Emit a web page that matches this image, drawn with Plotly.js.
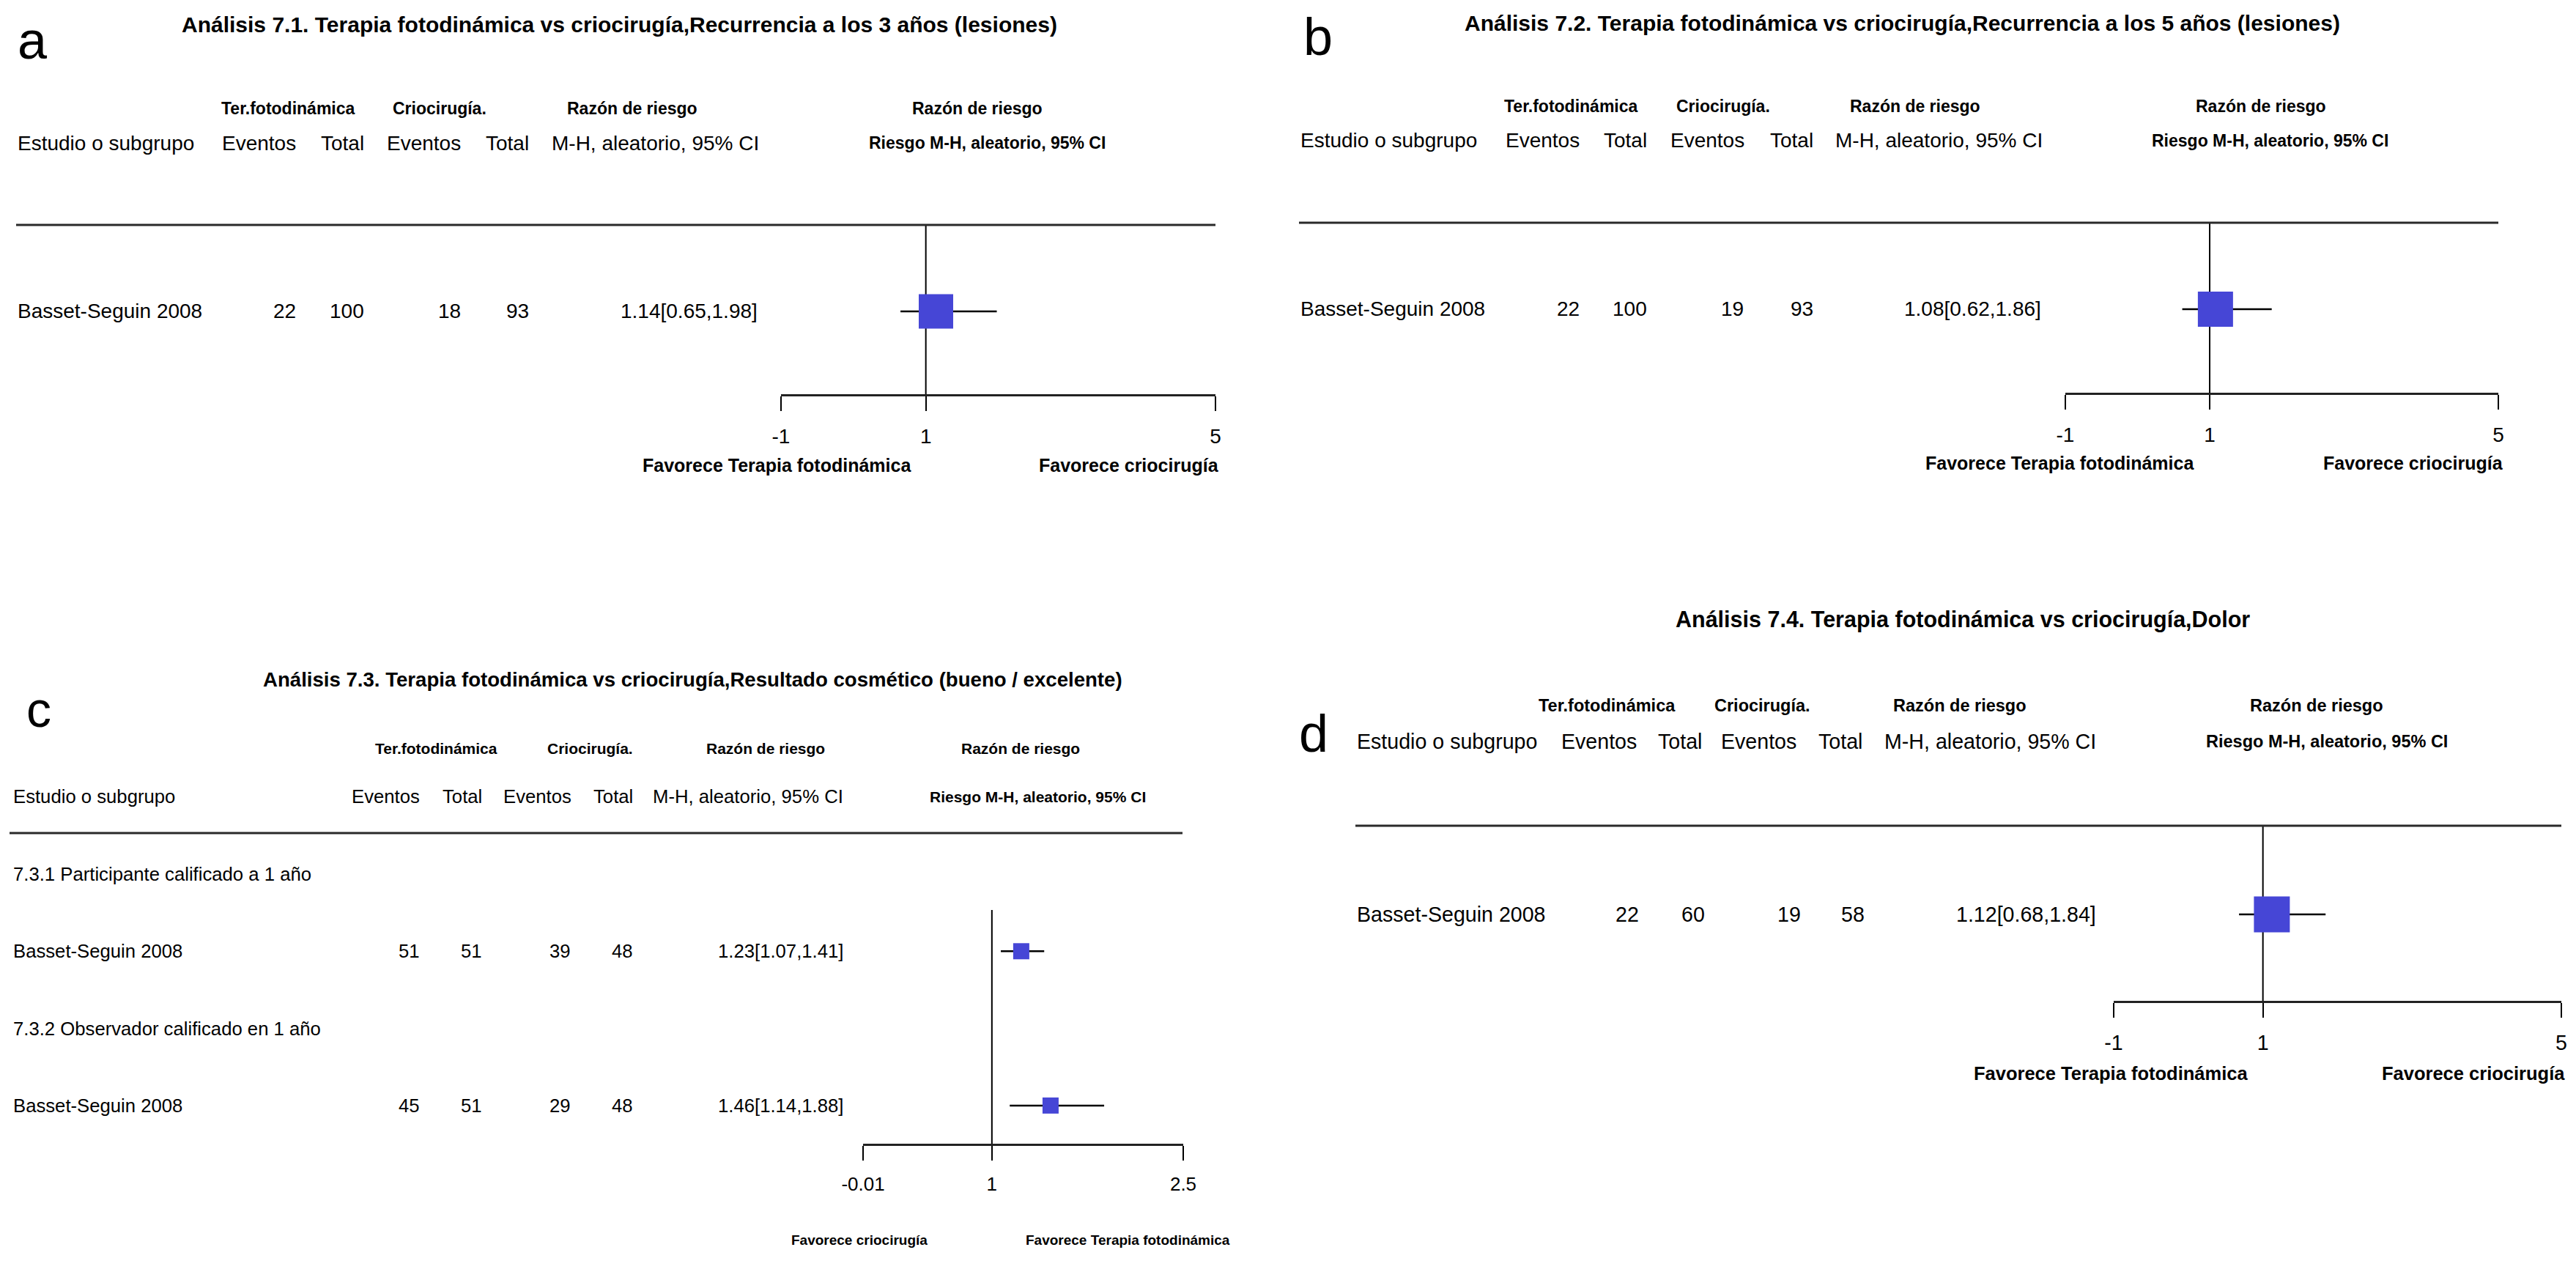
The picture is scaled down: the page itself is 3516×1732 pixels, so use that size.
<!DOCTYPE html>
<html>
<head>
<meta charset="utf-8">
<script src="https://cdn.plot.ly/plotly-3.0.1.min.js"></script>
<style>html,body{margin:0;padding:0;background:#fff;}#chart{width:3516px;height:1732px;}</style>
</head>
<body>
<div id="chart"></div>
<script>
// ---------- DATA ----------
const ticksAB = [-1, 1, 5];
const ticksC = [-0.01, 1, 2.5];

// Panel a: 7.1 Recurrencia a los 3 años
const studiesA = ["Basset-Seguin 2008"];
const eventsPdtA = [22];
const totalPdtA = [100];
const eventsCryoA = [18];
const totalCryoA = [93];
const rrA = [1.14];
const loA = [0.65];
const hiA = [1.98];

// Panel b: 7.2 Recurrencia a los 5 años
const studiesB = ["Basset-Seguin 2008"];
const eventsPdtB = [22];
const totalPdtB = [100];
const eventsCryoB = [19];
const totalCryoB = [93];
const rrB = [1.08];
const loB = [0.62];
const hiB = [1.86];

// Panel c: 7.3 Resultado cosmético
const subgroupsC = ["7.3.1 Participante calificado a 1 año", "7.3.2 Observador calificado en 1 año"];
const studiesC = ["Basset-Seguin 2008", "Basset-Seguin 2008"];
const eventsPdtC = [51, 45];
const totalPdtC = [51, 51];
const eventsCryoC = [39, 29];
const totalCryoC = [48, 48];
const rrC = [1.23, 1.46];
const loC = [1.07, 1.14];
const hiC = [1.41, 1.88];

// Panel d: 7.4 Dolor
const studiesD = ["Basset-Seguin 2008"];
const eventsPdtD = [22];
const totalPdtD = [60];
const eventsCryoD = [19];
const totalCryoD = [58];
const rrD = [1.12];
const loD = [0.68];
const hiD = [1.84];

// ---------- LAYOUT HELPERS ----------
const W = 3516, H = 1732;
const FONT = "Liberation Sans, Arial, sans-serif";
const BLUE = "#4646d6";
const px = v => v / W;
const py = v => 1 - v / H;
const ann = [];
const shapes = [];

function txt(x, y, text, o) {
  o = o || {};
  ann.push({
    xref: "paper", yref: o.yref || "paper",
    x: px(x), y: o.yref ? y : py(y),
    text: o.bold ? "<b>" + text + "</b>" : text,
    showarrow: false,
    xanchor: o.anchor || "left", yanchor: "middle",
    font: { family: FONT, size: o.size || 28, color: "#000" }
  });
}
function hline(x0, x1, y, w) {
  shapes.push({ type: "line", xref: "paper", yref: "paper", x0: px(x0), x1: px(x1), y0: py(y), y1: py(y),
    line: { color: "#2a2a2a", width: w || 3 } });
}
function vline(ax, yax, topFrac) {
  shapes.push({ type: "line", xref: ax, yref: yax + " domain", x0: 1, x1: 1, y0: 0, y1: topFrac,
    line: { color: "#000", width: 2 }, layer: "below" });
}
function fmt(rr, lo, hi) { return rr.toFixed(2) + "[" + lo.toFixed(2) + "," + hi.toFixed(2) + "]"; }

function header(p) {
  txt(p.letterX, p.letterY, p.letter, { size: p.letterSize });
  txt(p.titleX, p.titleY, p.title, { anchor: "center", bold: true, size: p.titleSize });
  const b = p.boldSize, n = p.normSize;
  txt(p.h1[0], p.r1, "Ter.fotodinámica", { anchor: "center", bold: true, size: b });
  txt(p.h1[1], p.r1, "Criocirugía.", { anchor: "center", bold: true, size: b });
  txt(p.h1[2], p.r1, "Razón de riesgo", { anchor: "center", bold: true, size: b });
  txt(p.h1[3], p.r1, "Razón de riesgo", { anchor: "center", bold: true, size: b });
  txt(p.studyX, p.r2, "Estudio o subgrupo", { size: n });
  txt(p.cols[0], p.r2, "Eventos", { anchor: "right", size: n });
  txt(p.cols[1], p.r2, "Total", { anchor: "right", size: n });
  txt(p.cols[2], p.r2, "Eventos", { anchor: "right", size: n });
  txt(p.cols[3], p.r2, "Total", { anchor: "right", size: n });
  txt(p.cols[4], p.r2, "M-H, aleatorio, 95% CI", { anchor: "right", size: n });
  txt(p.riesgoX, p.r2, "Riesgo M-H, aleatorio, 95% CI", { anchor: "center", bold: true, size: b });
  hline(p.lineX0, p.lineX1, p.lineY);
  txt(p.fav[0], p.favY, p.favText[0], { anchor: "center", bold: true, size: p.favSize });
  txt(p.fav[1], p.favY, p.favText[1], { anchor: "center", bold: true, size: p.favSize });
}
function rows(p, yax, idx, studies, e1, t1, e2, t2, rr, lo, hi) {
  const n = p.normSize;
  for (let i = 0; i < studies.length; i++) {
    const o = { yref: yax, size: n };
    txt(p.studyX, idx[i], studies[i], o);
    txt(p.vals[0], idx[i], String(e1[i]), Object.assign({ anchor: "right" }, o));
    txt(p.vals[1], idx[i], String(t1[i]), Object.assign({ anchor: "right" }, o));
    txt(p.vals[2], idx[i], String(e2[i]), Object.assign({ anchor: "right" }, o));
    txt(p.vals[3], idx[i], String(t2[i]), Object.assign({ anchor: "right" }, o));
    txt(p.vals[4], idx[i], fmt(rr[i], lo[i], hi[i]), Object.assign({ anchor: "right" }, o));
  }
}
function forestTrace(ax, yax, idx, rr, lo, hi, size) {
  return {
    type: "scatter", mode: "markers", xaxis: ax, yaxis: yax,
    x: rr, y: idx, cliponaxis: false, hoverinfo: "skip",
    marker: { symbol: "square", size: size, color: BLUE, line: { width: 0 } },
    error_x: { type: "data", symmetric: false,
      array: hi.map((h, i) => h - rr[i]), arrayminus: lo.map((l, i) => rr[i] - l),
      color: "#000", thickness: 2.5, width: 0 }
  };
}
function xAxis(d0, d1, yanchor, tv, r, fs) {
  return {
    domain: [px(d0), px(d1)], anchor: yanchor, range: r,
    showgrid: false, zeroline: false, showline: true, linecolor: "#222", linewidth: 3,
    ticks: "outside", ticklen: 20, tickwidth: 2, tickcolor: "#000",
    tickmode: "array", tickvals: tv, ticktext: tv.map(String),
    tickfont: { family: FONT, size: fs, color: "#000" }, ticklabelstandoff: 10, fixedrange: true
  };
}
function yAxis(xanchor, top, bottom, row0, step) {
  return {
    domain: [py(bottom), py(top)], anchor: xanchor, visible: false,
    range: [(bottom - row0) / step, (top - row0) / step],
    showgrid: false, zeroline: false, fixedrange: true
  };
}

// ---------- PANELS ----------
const favAB = ["Favorece Terapia fotodinámica", "Favorece criocirugía"];
const favC = ["Favorece criocirugía", "Favorece Terapia fotodinámica"];

const pA = { letter: "a", letterX: 22, letterY: 55, letterSize: 72,
  title: "Análisis 7.1. Terapia fotodinámica vs criocirugía,Recurrencia a los 3 años (lesiones)",
  titleX: 845, titleY: 33, titleSize: 30, boldSize: 23, normSize: 28,
  r1: 148, r2: 195, h1: [393, 600, 863, 1334], studyX: 22,
  cols: [406, 499, 631, 724, 1038], vals: [406, 499, 631, 724, 1036], riesgoX: 1347,
  lineX0: 22, lineX1: 1659, lineY: 307, fav: [1060, 1541], favY: 635, favText: favAB, favSize: 25 };
const pB = { letter: "b", letterX: 1777, letterY: 50, letterSize: 72,
  title: "Análisis 7.2. Terapia fotodinámica vs criocirugía,Recurrencia a los 5 años (lesiones)",
  titleX: 2596, titleY: 32, titleSize: 30, boldSize: 23, normSize: 28,
  r1: 145, r2: 192, h1: [2144, 2352, 2614, 3086], studyX: 1773,
  cols: [2158, 2250, 2383, 2477, 2790], vals: [2158, 2250, 2382, 2477, 2788], riesgoX: 3098,
  lineX0: 1773, lineX1: 3410, lineY: 304, fav: [2811, 3294], favY: 632, favText: favAB, favSize: 25 };
const pC = { letter: "c", letterX: 34, letterY: 968, letterSize: 68,
  title: "Análisis 7.3. Terapia fotodinámica vs criocirugía,Resultado cosmético (bueno / excelente)",
  titleX: 945, titleY: 927, titleSize: 27.6, boldSize: 21, normSize: 25.7,
  r1: 1022, r2: 1087, h1: [595, 805, 1045, 1393], studyX: 16,
  cols: [575, 660, 782, 866, 1153], vals: [575, 660, 781, 866, 1153], riesgoX: 1416,
  lineX0: 13, lineX1: 1614, lineY: 1137, fav: [1173, 1539], favY: 1692, favText: favC, favSize: 19 };
const pD = { letter: "d", letterX: 1771, letterY: 1001, letterSize: 72,
  title: "Análisis 7.4. Terapia fotodinámica vs criocirugía,Dolor",
  titleX: 2679, titleY: 845, titleSize: 30.5, boldSize: 23.5, normSize: 28.6,
  r1: 963, r2: 1012, h1: [2193, 2405, 2675, 3162], studyX: 1850,
  cols: [2236, 2325, 2454, 2544, 2863], vals: [2239, 2329, 2460, 2547, 2863], riesgoX: 3176,
  lineX0: 1850, lineX1: 3496, lineY: 1127, fav: [2881, 3376], favY: 1465, favText: favAB, favSize: 25.5 };

[pA, pB, pC, pD].forEach(header);

const idxA = studiesA.map((s, i) => i);
const idxB = studiesB.map((s, i) => i);
const idxD = studiesD.map((s, i) => i);
const idxC = studiesC.map((s, i) => 2 * i + 1);
const idxSubC = subgroupsC.map((s, i) => 2 * i);

rows(pA, "y", idxA, studiesA, eventsPdtA, totalPdtA, eventsCryoA, totalCryoA, rrA, loA, hiA);
rows(pB, "y2", idxB, studiesB, eventsPdtB, totalPdtB, eventsCryoB, totalCryoB, rrB, loB, hiB);
rows(pC, "y3", idxC, studiesC, eventsPdtC, totalPdtC, eventsCryoC, totalCryoC, rrC, loC, hiC);
rows(pD, "y4", idxD, studiesD, eventsPdtD, totalPdtD, eventsCryoD, totalCryoD, rrD, loD, hiD);
subgroupsC.forEach((s, i) => txt(pC.studyX, idxSubC[i], s, { yref: "y3", size: pC.normSize }));

// panel c: y domain spans from the header line (1137) to the axis (1561); reference line starts at 1242
const cTop = 1137, cBottom = 1561, cLineTop = 1242;
vline("x", "y", 1); vline("x2", "y2", 1); vline("x4", "y4", 1);
vline("x3", "y3", (cBottom - cLineTop) / (cBottom - cTop));

const data = [
  forestTrace("x", "y", idxA, rrA, loA, hiA, 47),
  forestTrace("x2", "y2", idxB, rrB, loB, hiB, 48),
  forestTrace("x3", "y3", idxC, rrC, loC, hiC, 22),
  forestTrace("x4", "y4", idxD, rrD, loD, hiD, 49)
];

const layout = {
  width: W, height: H, margin: { l: 0, r: 0, t: 0, b: 0 },
  paper_bgcolor: "#fff", plot_bgcolor: "rgba(0,0,0,0)", showlegend: false,
  font: { family: FONT, color: "#000" },
  xaxis: xAxis(1066, 1659, "y", ticksAB, [-1, 5], 28),
  yaxis: yAxis("x", 307, 538, 425, 100),
  xaxis2: xAxis(2819, 3410, "y2", ticksAB, [-1, 5], 28),
  yaxis2: yAxis("x2", 304, 536, 422, 100),
  xaxis3: xAxis(1178, 1615, "y3", ticksC, [-0.01, 2.5], 26),
  yaxis3: yAxis("x3", cTop, cBottom, 1193, 105.3),
  xaxis4: xAxis(2885, 3496, "y4", ticksAB, [-1, 5], 28.6),
  yaxis4: yAxis("x4", 1127, 1366, 1248, 100),
  annotations: ann, shapes: shapes
};

Plotly.newPlot("chart", data, layout, { staticPlot: true, displayModeBar: false });
</script>
</body>
</html>
